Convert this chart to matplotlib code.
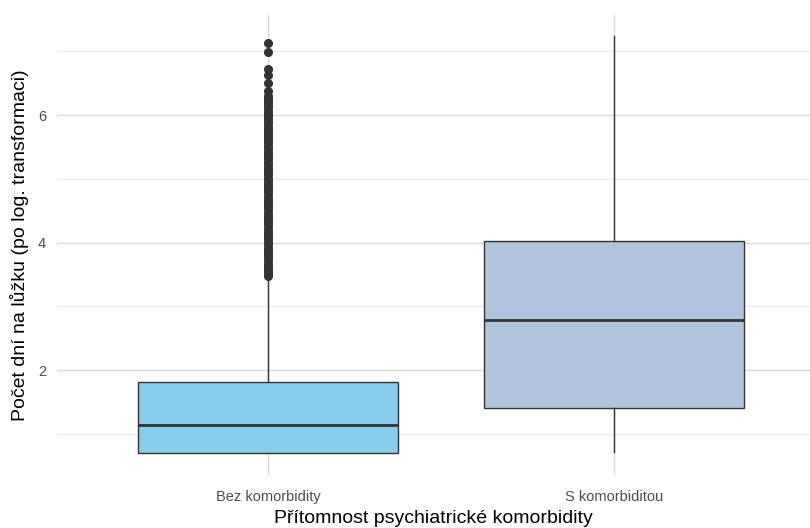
import matplotlib
matplotlib.use("Agg")
from matplotlib import pyplot as plt

plt.rcParams['font.family'] = ['Liberation Sans', 'DejaVu Sans']

# data (log-transformed bed days)
groups = ["Bez komorbidity", "S komorbiditou"]
q1 = [0.70, 1.40]
med = [1.14, 2.78]
q3 = [1.81, 4.02]
whislo = [0.70, 0.71]
whishi = [3.45, 7.24]
box_colors = ["#87CEEB", "#B0C4DE"]

# outliers of the first group (dense band, then isolated points on top)
outliers_bez = [3.47, 3.52, 3.57, 3.62, 3.67, 3.72, 3.77, 3.82, 3.87, 3.92,
                3.97, 4.02, 4.07, 4.12, 4.17, 4.22, 4.27, 4.32, 4.37, 4.42,
                4.47, 4.52, 4.57, 4.62, 4.67, 4.72, 4.77, 4.82, 4.87, 4.92,
                4.97, 5.02, 5.07, 5.12, 5.17, 5.22, 5.27, 5.32, 5.37, 5.42,
                5.47, 5.52, 5.57, 5.62, 5.67, 5.72, 5.77, 5.82, 5.87, 5.92,
                5.97, 6.02, 6.07, 6.12, 6.17, 6.22, 6.26, 6.30, 6.37, 6.50,
                6.63, 6.73, 6.99, 7.13]
outliers = [outliers_bez, []]

stats = []
for i, g in enumerate(groups):
    stats.append(dict(label=g, q1=q1[i], med=med[i], q3=q3[i],
                      whislo=whislo[i], whishi=whishi[i], fliers=outliers[i]))

fig = plt.figure(figsize=(8.10, 5.28), dpi=100)
ax = fig.add_axes([57/810, 53/528, 753/810, 460/528])

bp = ax.bxp(stats, positions=[1, 2], widths=0.75, patch_artist=True,
            showcaps=False,
            boxprops=dict(edgecolor="#333333", linewidth=1.0),
            medianprops=dict(color="#333333", linewidth=2.0),
            whiskerprops=dict(color="#333333", linewidth=1.0),
            flierprops=dict(marker="o", markersize=5.5, markerfacecolor="#333333",
                            markeredgecolor="#333333"))
for patch, c in zip(bp["boxes"], box_colors):
    patch.set_facecolor(c)

ax.set_xlim(0.39, 2.566)
ax.set_ylim(0.353, 7.57)
ax.set_yticks([2, 4, 6])
ax.set_yticks([1, 3, 5, 7], minor=True)
ax.set_xticks([1, 2])
ax.set_xticklabels(groups)

ax.grid(True, which="major", color="#DADADA", linewidth=1.0)
ax.grid(True, which="minor", axis="y", color="#EBEBEB", linewidth=1.0)
ax.set_axisbelow(True)
for s in ax.spines.values():
    s.set_visible(False)
ax.tick_params(which="both", length=0)
ax.tick_params(axis="x", labelsize=10.5, labelcolor="#4D4D4D", pad=11)
ax.tick_params(axis="y", labelsize=10.5, labelcolor="#4D4D4D", pad=8)

ax.set_xlabel("Přítomnost psychiatrické komorbidity", fontsize=14, labelpad=4)
ax.set_ylabel("Počet dní na lůžku (po log. transformaci)", fontsize=14, labelpad=6)

fig.savefig("out.png", dpi=100)
